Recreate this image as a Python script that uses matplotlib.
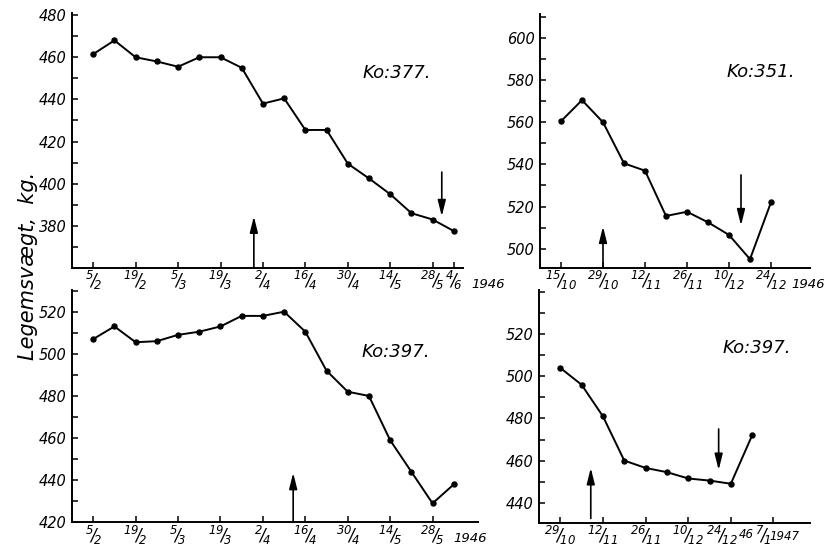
import pandas as pd
import matplotlib
matplotlib.use("Agg")
import matplotlib.pyplot as plt
import matplotlib.dates as mdates
from matplotlib.ticker import FixedLocator, NullFormatter
from matplotlib.transforms import ScaledTranslation

plt.rcParams['font.family'] = ['DejaVu Sans']
plt.rcParams['font.style'] = 'italic'
plt.rcParams['mathtext.fontset'] = 'custom'
plt.rcParams['mathtext.rm'] = 'DejaVu Sans:italic'
plt.rcParams['mathtext.it'] = 'DejaVu Sans:italic'
plt.rcParams['mathtext.sf'] = 'DejaVu Sans:italic'
plt.rcParams['mathtext.default'] = 'it'

W, H = 831, 556

# ---- Ko 377, spring 1946 (weekly weighings) ----
dates_377 = ["1946-02-05", "1946-02-12", "1946-02-19", "1946-02-26", "1946-03-05",
             "1946-03-12", "1946-03-19", "1946-03-26", "1946-04-02", "1946-04-09",
             "1946-04-16", "1946-04-23", "1946-04-30", "1946-05-07", "1946-05-14",
             "1946-05-21", "1946-05-28", "1946-06-04"]
weight_377 = [461.5, 468, 460, 458, 455.5, 460, 460, 455, 438, 440.5,
              425.5, 425.5, 409.5, 402.5, 395, 386, 383, 377.5]
ticks_377 = ["5/2", "19/2", "5/3", "19/3", "2/4", "16/4", "30/4", "14/5", "28/5", "4/6"]
arrows_377 = [("1946-03-30", 360, 384.5), ("1946-05-31", 405.5, 384.5)]

# ---- Ko 351, autumn 1946 ----
dates_351 = ["1946-10-15", "1946-10-22", "1946-10-29", "1946-11-05", "1946-11-12",
             "1946-11-19", "1946-11-26", "1946-12-03", "1946-12-10", "1946-12-17",
             "1946-12-24"]
weight_351 = [560.5, 570.5, 560, 540.5, 537, 515.5, 517.5, 512.5, 506.5, 495, 522]
ticks_351 = ["15/10", "29/10", "12/11", "26/11", "10/12", "24/12"]
arrows_351 = [("1946-10-29", 491, 510.5), ("1946-12-14", 535, 511)]

# ---- Ko 397, spring 1946 ----
dates_397a = dates_377
weight_397a = [507, 513, 505.5, 506, 509, 510.5, 513, 518, 518, 520,
               510.5, 492, 482, 480, 459, 444, 429, 438]
ticks_397a = ["5/2", "19/2", "5/3", "19/3", "2/4", "16/4", "30/4", "14/5", "28/5"]
arrows_397a = [("1946-04-12", 420, 443.5)]

# ---- Ko 397, autumn 1946 / winter 1947 ----
dates_397b = ["1946-10-29", "1946-11-05", "1946-11-12", "1946-11-19", "1946-11-26",
              "1946-12-03", "1946-12-10", "1946-12-17", "1946-12-24", "1946-12-31"]
weight_397b = [504, 496, 481, 460, 456.5, 454.5, 451.5, 450.5, 449, 472]
ticks_397b = ["29/10", "12/11", "26/11", "10/12", "24/12", "7/1"]
ticks_397b_year = [1946, 1946, 1946, 1946, 1946, 1947]
arrows_397b = [("1946-11-08", 432.5, 456.5), ("1946-12-20", 475, 455.5)]


def num(d):
    return mdates.date2num(pd.Timestamp(d))


def tick_num(lbl, year):
    d, m = lbl.split('/')
    return num(f"{year}-{int(m):02d}-{int(d):02d}")


def frac(lbl):
    d, m = lbl.split('/')
    return rf"${{}}^{{{d}}}\!/\!{{}}_{{{m}}}$"


fig = plt.figure(figsize=(W / 100, H / 100), dpi=100)


def shift(label, dx_px):
    label.set_transform(label.get_transform()
                        + ScaledTranslation(dx_px / 100, 0, fig.dpi_scale_trans))


def panel(rect_px, dates, weights, tick_lbls, tick_years, xlim, ylim,
          majors, minors, arrows):
    l, t, r, b = rect_px
    ax = fig.add_axes([l / W, 1 - b / H, (r - l) / W, (b - t) / H])
    x = [num(d) for d in dates]
    ax.plot(x, weights, color='black', lw=1.4, marker='o', ms=3.6,
            solid_joinstyle='round')
    tx = [tick_num(lb, y) for lb, y in zip(tick_lbls, tick_years)]
    ax.set_xticks(tx)
    ax.set_xticklabels([frac(lb) for lb in tick_lbls], fontsize=12)
    ax.set_xlim(num(xlim[0]), num(xlim[1]))
    ax.set_ylim(*ylim)
    ax.yaxis.set_major_locator(FixedLocator(majors))
    ax.yaxis.set_minor_locator(FixedLocator(minors))
    ax.yaxis.set_minor_formatter(NullFormatter())
    ax.tick_params(axis='both', which='both', direction='in', width=1.1,
                   color='black')
    ax.tick_params(axis='y', which='major', length=4, pad=4, labelsize=10.5)
    ax.tick_params(axis='y', which='minor', length=4)
    ax.tick_params(axis='x', which='major', length=4, pad=1)
    for side in ('top', 'right'):
        ax.spines[side].set_visible(False)
    for side in ('left', 'bottom'):
        ax.spines[side].set_linewidth(1.4)
    for d, tail, tip in arrows:
        xa = num(d)
        ax.annotate('', xy=(xa, tip), xytext=(xa, tail),
                    arrowprops=dict(arrowstyle='-|>,head_length=0.8,head_width=0.2',
                                    color='black', lw=1.2, shrinkA=0, shrinkB=0,
                                    mutation_scale=12),
                    annotation_clip=False)
    ax.patch.set_alpha(0)
    return ax


panel((72, 13, 463, 268), dates_377, weight_377, ticks_377, [1946] * 10,
      ("1946-01-29", "1946-06-07"), (360, 481),
      list(range(380, 481, 20)), list(range(370, 480, 20)), arrows_377)

panel((540, 14, 810, 268), dates_351, weight_351, ticks_351, [1946] * 6,
      ("1946-10-08", "1947-01-06"), (490.8, 611.4),
      list(range(500, 601, 20)), list(range(510, 611, 20)), arrows_351)

panel((72, 290, 478, 522.3), dates_397a, weight_397a, ticks_397a, [1946] * 9,
      ("1946-01-29", "1946-06-12"), (420, 530.3),
      list(range(420, 521, 20)), list(range(430, 531, 20)), arrows_397a)

ax4 = panel((539, 290, 810, 522.7), dates_397b, weight_397b, ticks_397b,
            ticks_397b_year, ("1946-10-22", "1947-01-19"),
            (430.5, 541), list(range(440, 521, 20)), [450, 470, 490, 510, 530, 540],
            arrows_397b)
# the labels around the turn of the year are squeezed together with the years
labs4 = ax4.get_xticklabels()
shift(labs4[-2], -9)
shift(labs4[-1], -10)

# year captions at the end of the date axes
for xp, yp, yr in [(488, 285, "1946"), (808, 285, "1946"), (470, 539, "1946")]:
    fig.text(xp / W, 1 - yp / H, yr, fontsize=9.5, ha='center', va='center',
             fontstyle='italic')
for xp, yp, yr in [(746, 535, "46"), (784, 536, "1947")]:
    fig.text(xp / W, 1 - yp / H, yr, fontsize=8.5, ha='center', va='center',
             fontstyle='italic')

# cow identifiers
for xp, yp, name in [(363, 73, "Ko:377."), (727, 72, "Ko:351."),
                     (362, 352, "Ko:397."), (723, 348, "Ko:397.")]:
    fig.text(xp / W, 1 - yp / H, name, fontsize=13, ha='left', va='center',
             fontstyle='italic')

fig.text(28 / W, 1 - 266 / H, "Legemsvægt,  kg.", rotation=90, fontsize=15,
         ha='center', va='center', fontstyle='italic')

fig.savefig("out.png", dpi=100)
